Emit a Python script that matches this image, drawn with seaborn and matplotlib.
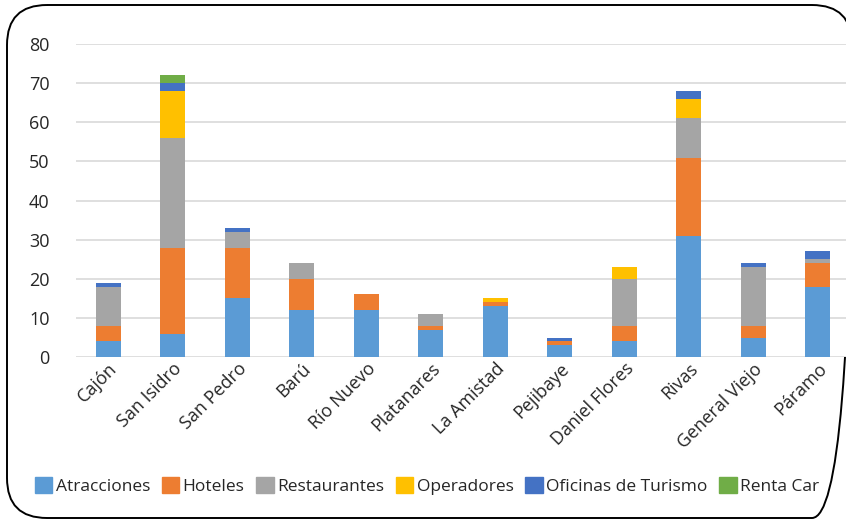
import pandas as pd
import matplotlib.pyplot as plt
import seaborn as sns
import numpy as np
from matplotlib.patches import FancyBboxPatch

cantones = ['Cajón', 'San Isidro', 'San Pedro', 'Barú', 'Río Nuevo', 'Platanares',
            'La Amistad', 'Pejibaye', 'Daniel Flores', 'Rivas', 'General Viejo', 'Páramo']
atracciones = [4, 6, 15, 12, 12, 7, 13, 3, 4, 31, 5, 18]
hoteles = [4, 22, 13, 8, 4, 1, 1, 1, 4, 20, 3, 6]
restaurantes = [10, 28, 4, 4, 0, 3, 0, 0, 12, 10, 15, 1]
operadores = [0, 12, 0, 0, 0, 0, 1, 0, 3, 5, 0, 0]
oficinas = [1, 2, 1, 0, 0, 0, 0, 1, 0, 2, 1, 2]
renta_car = [0, 2, 0, 0, 0, 0, 0, 0, 0, 0, 0, 0]

series = ['Atracciones', 'Hoteles', 'Restaurantes', 'Operadores', 'Oficinas de Turismo', 'Renta Car']
colores = ['#5B9BD5', '#ED7D31', '#A5A5A5', '#FFC000', '#4472C4', '#70AD47']

df = pd.DataFrame({'Canton': cantones, 'Atracciones': atracciones, 'Hoteles': hoteles,
                   'Restaurantes': restaurantes, 'Operadores': operadores,
                   'Oficinas de Turismo': oficinas, 'Renta Car': renta_car})
cum = df[series].cumsum(axis=1)

sns.set_style('white')
plt.rcParams['font.family'] = ['Open Sans', 'DejaVu Sans']

fig = plt.figure(figsize=(8.46, 5.19), dpi=100)
ax = fig.add_axes([0.0898, 0.312, 0.915, 0.603])

# stacked bars: draw cumulative totals from top layer down
for s, c in reversed(list(zip(series, colores))):
    sns.barplot(x=df['Canton'], y=cum[s], color=c, width=0.39, linewidth=0,
                saturation=1, ax=ax, zorder=3)

ax.set_ylim(0, 80)
ax.set_yticks(np.arange(0, 81, 10))
ax.grid(axis='y', color='#d9d9d9', linewidth=1.2, zorder=0)
ax.set_xlabel('')
ax.set_ylabel('')
for sp in ax.spines.values():
    sp.set_visible(False)
ax.tick_params(axis='y', labelsize=13, length=0, pad=19)
ax.tick_params(axis='x', labelsize=13, length=0, pad=2)
plt.setp(ax.get_xticklabels(), rotation=45, ha='right', rotation_mode='anchor')

handles = [plt.Rectangle((0, 0), 1, 1, color=c) for c in colores]
fig.legend(handles, series, loc='center left', bbox_to_anchor=(0.041, 0.063), ncol=6,
           frameon=False, fontsize=12.5, handlelength=1.0, handleheight=1.0,
           handletextpad=0.2, columnspacing=0.68, borderaxespad=0, borderpad=0)

# rounded outer frame, drawn in pixel coordinates
over = fig.add_axes([0, 0, 1, 1], zorder=-1)
over.set_xlim(0, 846)
over.set_ylim(519, 0)
over.axis('off')
over.add_patch(FancyBboxPatch((7, 5), 845, 513, boxstyle='round,pad=0,rounding_size=40',
                              fill=False, edgecolor='black', linewidth=1.4))

plt.savefig('out.png', dpi=100)
